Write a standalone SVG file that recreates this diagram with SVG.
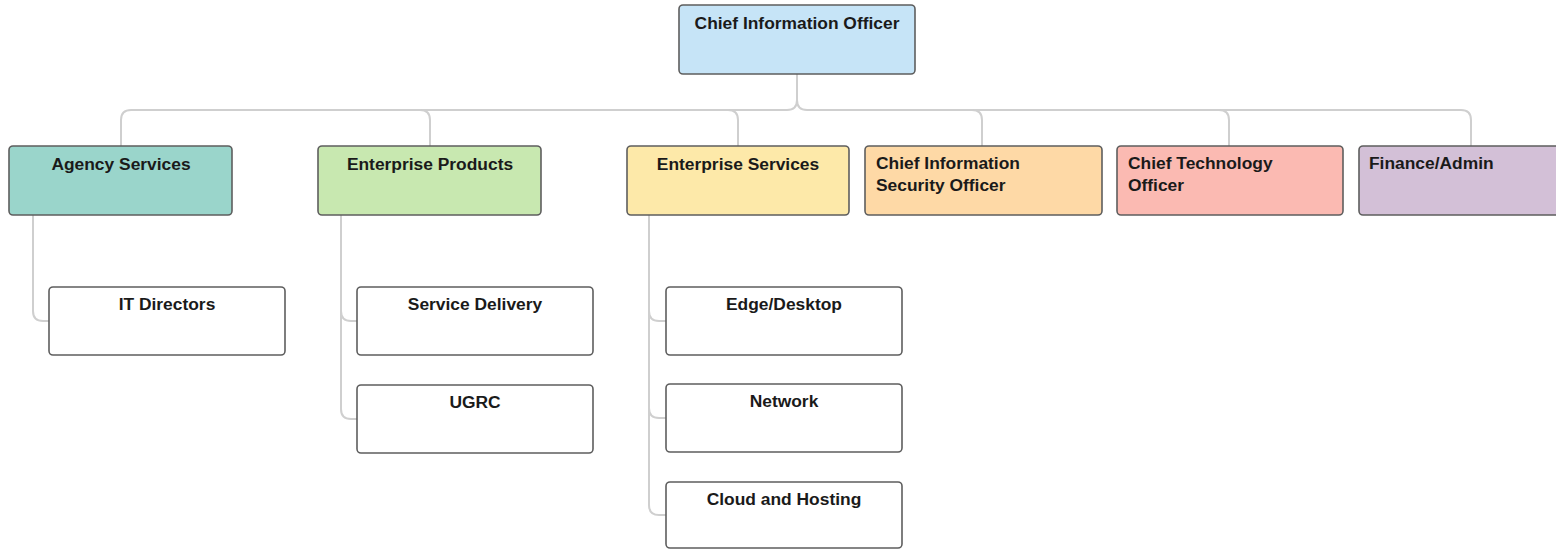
<svg xmlns="http://www.w3.org/2000/svg" width="1556" height="550" viewBox="0 0 1556 550">
<style>
.box{stroke:#5e5e5e;stroke-width:1.6}
.t{font-family:"Liberation Sans",Arial,sans-serif;font-weight:bold;font-size:17.4px;fill:#1a1a1a}
.c{text-anchor:middle}
.conn path{fill:none;stroke:#cfcfcf;stroke-width:2}
</style>
<rect width="1556" height="550" fill="#ffffff"/>
<g class="conn" id="connectors">
<path d="M797 74 V100 Q797 110 787 110 H131 Q121 110 121 120 V146"/>
<path d="M797 100 Q797 110 807 110 H1461 Q1471 110 1471 120 V146"/>
<path d="M420 110 Q430 110 430 120 V146"/>
<path d="M728 110 Q738 110 738 120 V146"/>
<path d="M972 110 Q982 110 982 120 V146"/>
<path d="M1219 110 Q1229 110 1229 120 V146"/>
<path d="M33 215 V311 Q33 321 43 321 H49"/>
<path d="M341 215 V409 Q341 419 351 419 H357"/>
<path d="M341 311 Q341 321 351 321 H357"/>
<path d="M649 215 V505 Q649 515 659 515 H666"/>
<path d="M649 311 Q649 321 659 321 H666"/>
<path d="M649 408 Q649 418 659 418 H666"/>
</g>
<g id="cio"><rect class="box" x="679" y="5" width="236" height="69" rx="4" fill="#c6e4f7"/><text class="t c" x="797" y="29">Chief Information Officer</text></g>
<g id="agency"><rect class="box" x="9" y="146" width="223" height="69" rx="4" fill="#9ad5cb"/><text class="t c" x="121" y="170">Agency Services</text></g>
<g id="products"><rect class="box" x="318" y="146" width="223" height="69" rx="4" fill="#c8e8b0"/><text class="t c" x="430" y="170">Enterprise Products</text></g>
<g id="services"><rect class="box" x="627" y="146" width="222" height="69" rx="4" fill="#fde9a9"/><text class="t c" x="738" y="170">Enterprise Services</text></g>
<g id="ciso"><rect class="box" x="865" y="146" width="237" height="69" rx="4" fill="#fed9a6"/><text class="t" x="876" y="169">Chief Information</text><text class="t" x="876" y="191">Security Officer</text></g>
<g id="cto"><rect class="box" x="1117" y="146" width="226" height="69" rx="4" fill="#fbbab2"/><text class="t" x="1128" y="169">Chief Technology</text><text class="t" x="1128" y="191">Officer</text></g>
<g id="finance"><rect class="box" x="1359" y="146" width="224" height="69" rx="4" fill="#d3c0d7"/><text class="t" x="1369" y="169">Finance/Admin</text></g>
<g id="itdirectors"><rect class="box" x="49" y="287" width="236" height="68" rx="4" fill="#ffffff"/><text class="t c" x="167" y="310">IT Directors</text></g>
<g id="servicedelivery"><rect class="box" x="357" y="287" width="236" height="68" rx="4" fill="#ffffff"/><text class="t c" x="475" y="310">Service Delivery</text></g>
<g id="ugrc"><rect class="box" x="357" y="385" width="236" height="68" rx="4" fill="#ffffff"/><text class="t c" x="475" y="408">UGRC</text></g>
<g id="edge"><rect class="box" x="666" y="287" width="236" height="68" rx="4" fill="#ffffff"/><text class="t c" x="784" y="310">Edge/Desktop</text></g>
<g id="network"><rect class="box" x="666" y="384" width="236" height="68" rx="4" fill="#ffffff"/><text class="t c" x="784" y="407">Network</text></g>
<g id="cloud"><rect class="box" x="666" y="482" width="236" height="66" rx="4" fill="#ffffff"/><text class="t c" x="784" y="505">Cloud and Hosting</text></g>
</svg>
